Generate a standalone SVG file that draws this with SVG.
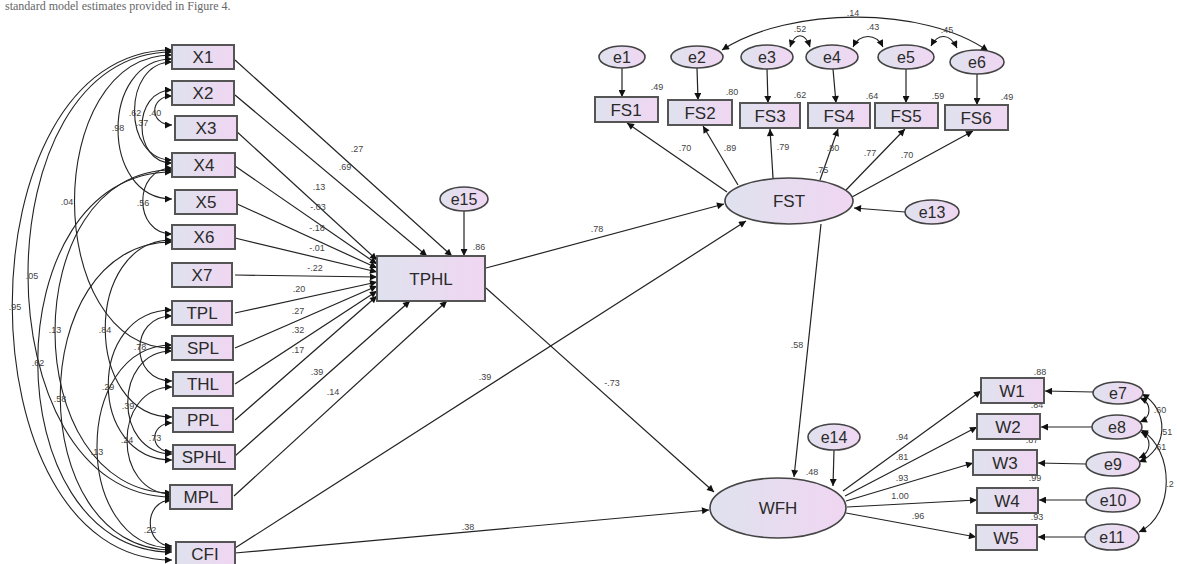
<svg xmlns="http://www.w3.org/2000/svg" width="1177" height="564" viewBox="0 0 1177 564">
<defs>
<linearGradient id="g" x1="0" y1="0" x2="1" y2="0">
<stop offset="0" stop-color="#dfe2ee"/>
<stop offset="1" stop-color="#f0d6f2"/>
</linearGradient>
<marker id="ah" viewBox="0 0 10 10" refX="10" refY="5" markerWidth="9" markerHeight="7" markerUnits="userSpaceOnUse" orient="auto-start-reverse">
<path d="M0,0 L10,5 L0,10 z" fill="#111"/>
</marker>
<style>
.bx{fill:url(#g);stroke:#555;stroke-width:2}
.el{fill:url(#g);stroke:#444;stroke-width:1.6}
.t{font-family:"Liberation Sans",Arial,sans-serif;font-size:17px;fill:#2a2a2a;text-anchor:middle}
.te{font-family:"Liberation Sans",Arial,sans-serif;font-size:16px;fill:#2a2a2a;text-anchor:middle}
.l{font-family:"Liberation Sans",Arial,sans-serif;font-size:9px;fill:#444;text-anchor:middle}
.c{fill:none;stroke:#222;stroke-width:1.2}
.a{fill:none;stroke:#222;stroke-width:1.2;marker-end:url(#ah)}
.d{fill:none;stroke:#222;stroke-width:1.1;marker-start:url(#ah);marker-end:url(#ah)}
</style>
</defs>
<rect width="1177" height="564" fill="#fff"/>
<text x="5" y="10" font-family="Liberation Serif,serif" font-size="12" fill="#666">standard model estimates provided in Figure 4.</text>

<g id="connectors">
<!-- left covariances -->
<path class="d" d="M172,50 C-41,50 -41,560 172,560"/>
<path class="d" d="M172,52 C-20,52 -20,497 172,497"/>
<path class="d" d="M172,55 C42,55 42,348 172,348"/>
<path class="d" d="M172,59 C100,59 100,199 172,199"/>
<path class="d" d="M172,62 C122,62 122,160 172,160"/>
<path class="d" d="M172,96 C149,96 149,125 172,125"/>
<path class="d" d="M172,90 C132,90 132,163 172,163"/>
<path class="d" d="M172,168 C133,168 133,234 172,234"/>
<path class="d" d="M172,170 C16,170 16,493 172,493"/>
<path class="d" d="M172,172 C-7,172 -7,552 172,552"/>
<path class="d" d="M172,240 C83,240 83,417 172,417"/>
<path class="d" d="M172,242 C23,242 23,550 172,550"/>
<path class="d" d="M172,316 C129,316 129,381 172,381"/>
<path class="d" d="M172,310 C87,310 87,460 172,460"/>
<path class="d" d="M172,351 C113,351 113,454 172,454"/>
<path class="d" d="M172,387 C112,387 112,494 172,494"/>
<path class="d" d="M172,345 C72,345 72,548 172,548"/>
<path class="d" d="M172,423 C149,423 149,452 172,452"/>
<path class="d" d="M172,500 C143,500 143,546 172,546"/>

<!-- to TPHL -->
<line class="a" x1="235" y1="60" x2="452" y2="256"/>
<line class="a" x1="235" y1="95" x2="427" y2="256"/>
<line class="a" x1="235" y1="130" x2="377" y2="260"/>
<line class="a" x1="235" y1="166" x2="377" y2="264"/>
<line class="a" x1="235" y1="203" x2="377" y2="268"/>
<line class="a" x1="235" y1="238" x2="377" y2="272"/>
<line class="a" x1="235" y1="275" x2="377" y2="277"/>
<line class="a" x1="235" y1="313" x2="377" y2="282"/>
<line class="a" x1="235" y1="348" x2="377" y2="286"/>
<line class="a" x1="235" y1="384" x2="377" y2="291"/>
<line class="a" x1="235" y1="420" x2="377" y2="296"/>
<line class="a" x1="235" y1="456" x2="410" y2="301"/>
<line class="a" x1="234" y1="496" x2="447" y2="301"/>
<line class="a" x1="464" y1="211" x2="464" y2="256"/>

<!-- structural -->
<line class="a" x1="486" y1="268" x2="724" y2="204"/>
<line class="a" x1="235" y1="548" x2="746" y2="221"/>
<line class="a" x1="486" y1="288" x2="714" y2="492"/>
<line class="a" x1="235" y1="553" x2="709" y2="510"/>
<line class="a" x1="821" y1="224" x2="794" y2="477"/>
<line class="a" x1="834" y1="450" x2="833" y2="486"/>
<line class="a" x1="905" y1="212" x2="854" y2="208"/>

<!-- FST to FS -->
<line class="a" x1="727" y1="192" x2="627" y2="123"/>
<line class="a" x1="738" y1="185" x2="703" y2="126"/>
<line class="a" x1="773" y1="178" x2="770" y2="129"/>
<line class="a" x1="820" y1="180" x2="838" y2="129"/>
<line class="a" x1="846" y1="190" x2="905" y2="129"/>
<line class="a" x1="852" y1="197" x2="973" y2="131"/>
<line class="a" x1="622" y1="68" x2="622" y2="97"/>
<line class="a" x1="697" y1="68" x2="698" y2="100"/>
<line class="a" x1="767" y1="69" x2="768" y2="103"/>
<line class="a" x1="833" y1="69" x2="836" y2="103"/>
<line class="a" x1="906" y1="69" x2="906" y2="103"/>
<line class="a" x1="977" y1="74" x2="977" y2="105"/>

<!-- top covariances -->
<path class="d" d="M722,50 C790,6 925,6 988,51"/>
<path class="d" d="M790,47 C795,32 805,32 810,47"/>
<path class="d" d="M853,47 C860,33 876,33 883,47"/>
<path class="d" d="M931,46 C938,33 950,33 957,48"/>

<!-- WFH to W -->
<line class="a" x1="843" y1="491" x2="981" y2="391"/>
<line class="a" x1="845" y1="496" x2="977" y2="427"/>
<line class="a" x1="846" y1="501" x2="973" y2="463"/>
<line class="a" x1="847" y1="507" x2="977" y2="500"/>
<line class="a" x1="846" y1="513" x2="976" y2="537"/>
<line class="a" x1="1093" y1="392" x2="1045" y2="391"/>
<line class="a" x1="1092" y1="427" x2="1041" y2="427"/>
<line class="a" x1="1086" y1="464" x2="1038" y2="463"/>
<line class="a" x1="1086" y1="500" x2="1039" y2="500"/>
<line class="a" x1="1085" y1="537" x2="1038" y2="537"/>

<!-- right covariances -->
<path class="d" d="M1140,398 C1152,403 1152,417 1140,422"/>
<path class="d" d="M1142,394 C1170,410 1168,450 1139,462"/>
<path class="d" d="M1141,432 C1152,438 1152,452 1139,458"/>
<path class="d" d="M1141,430 C1175,450 1175,515 1139,532"/>
</g>

<g id="labels">
<text class="l" x="357" y="152">.27</text>
<text class="l" x="345" y="170">.69</text>
<text class="l" x="319" y="190">.13</text>
<text class="l" x="318" y="210">-.03</text>
<text class="l" x="317" y="231">-.18</text>
<text class="l" x="317" y="251">-.01</text>
<text class="l" x="315" y="271">-.22</text>
<text class="l" x="299" y="292">.20</text>
<text class="l" x="298" y="314">.27</text>
<text class="l" x="298" y="333">.32</text>
<text class="l" x="298" y="353">.17</text>
<text class="l" x="317" y="375">.39</text>
<text class="l" x="333" y="395">.14</text>
<text class="l" x="479" y="250">.86</text>
<text class="l" x="597" y="232">.78</text>
<text class="l" x="485" y="380">.39</text>
<text class="l" x="612" y="386">-.73</text>
<text class="l" x="468" y="530">.38</text>
<text class="l" x="797" y="348">.58</text>
<text class="l" x="812" y="475">.48</text>
<text class="l" x="822" y="173">.75</text>
<text class="l" x="685" y="151">.70</text>
<text class="l" x="730" y="151">.89</text>
<text class="l" x="783" y="150">.79</text>
<text class="l" x="833" y="151">.80</text>
<text class="l" x="870" y="156">.77</text>
<text class="l" x="907" y="158">.70</text>
<text class="l" x="657" y="90">.49</text>
<text class="l" x="732" y="95">.80</text>
<text class="l" x="800" y="98">.62</text>
<text class="l" x="872" y="99">.64</text>
<text class="l" x="938" y="99">.59</text>
<text class="l" x="1007" y="100">.49</text>
<text class="l" x="853" y="16">.14</text>
<text class="l" x="800" y="32">.52</text>
<text class="l" x="873" y="30">.43</text>
<text class="l" x="947" y="33">.45</text>
<text class="l" x="902" y="440">.94</text>
<text class="l" x="902" y="460">.81</text>
<text class="l" x="902" y="481">.93</text>
<text class="l" x="900" y="499">1.00</text>
<text class="l" x="918" y="519">.96</text>
<text class="l" x="1040" y="375">.88</text>
<text class="l" x="1037" y="408">.84</text>
<text class="l" x="1032" y="443">.87</text>
<text class="l" x="1035" y="481">.99</text>
<text class="l" x="1037" y="520">.93</text>
<text class="l" x="1160" y="413">.60</text>
<text class="l" x="1166" y="435">.51</text>
<text class="l" x="1160" y="450">.61</text>
<text class="l" x="1170" y="487">.2</text>
<text class="l" x="15" y="310">.95</text>
<text class="l" x="32" y="279">.05</text>
<text class="l" x="67" y="205">.04</text>
<text class="l" x="118" y="131">.98</text>
<text class="l" x="135" y="116">.62</text>
<text class="l" x="155" y="116">.40</text>
<text class="l" x="142" y="126">.37</text>
<text class="l" x="143" y="206">.56</text>
<text class="l" x="55" y="333">.13</text>
<text class="l" x="38" y="366">.62</text>
<text class="l" x="105" y="333">.84</text>
<text class="l" x="60" y="402">.58</text>
<text class="l" x="140" y="350">.78</text>
<text class="l" x="108" y="390">.29</text>
<text class="l" x="128" y="409">.39</text>
<text class="l" x="127" y="443">.24</text>
<text class="l" x="97" y="455">.13</text>
<text class="l" x="155" y="441">.73</text>
<text class="l" x="150" y="533">.22</text>
</g>

<g id="X1"><rect class="bx" x="172" y="45" width="62" height="24"/><text class="t" x="203" y="63">X1</text></g>
<g id="X2"><rect class="bx" x="172" y="81" width="62" height="24"/><text class="t" x="203" y="99">X2</text></g>
<g id="X3"><rect class="bx" x="175" y="116" width="62" height="24"/><text class="t" x="206" y="134">X3</text></g>
<g id="X4"><rect class="bx" x="172" y="153" width="63" height="24"/><text class="t" x="204" y="171">X4</text></g>
<g id="X5"><rect class="bx" x="175" y="190" width="62" height="24"/><text class="t" x="206" y="208">X5</text></g>
<g id="X6"><rect class="bx" x="172" y="225" width="63" height="24"/><text class="t" x="204" y="243">X6</text></g>
<g id="X7"><rect class="bx" x="172" y="263" width="60" height="24"/><text class="t" x="202" y="281">X7</text></g>
<g id="TPL"><rect class="bx" x="172" y="301" width="60" height="24"/><text class="t" x="202" y="319">TPL</text></g>
<g id="SPL"><rect class="bx" x="172" y="336" width="61" height="24"/><text class="t" x="203" y="354">SPL</text></g>
<g id="THL"><rect class="bx" x="173" y="372" width="60" height="24"/><text class="t" x="203" y="390">THL</text></g>
<g id="PPL"><rect class="bx" x="173" y="408" width="60" height="24"/><text class="t" x="203" y="426">PPL</text></g>
<g id="SPHL"><rect class="bx" x="173" y="445" width="62" height="24"/><text class="t" x="204" y="463">SPHL</text></g>
<g id="MPL"><rect class="bx" x="170" y="485" width="62" height="24"/><text class="t" x="201" y="503">MPL</text></g>
<g id="CFI"><rect class="bx" x="176" y="542" width="59" height="24"/><text class="t" x="205" y="560">CFI</text></g>

<g id="TPHL"><rect class="bx" x="377" y="256" width="108" height="45"/><text class="t" x="431" y="285" font-size="18">TPHL</text></g>
<g id="e15"><ellipse class="el" cx="464" cy="199" rx="24" ry="12"/><text class="te" x="464" y="205">e15</text></g>

<g id="FST"><ellipse class="el" cx="789" cy="201" rx="64" ry="23"/><text class="t" x="789" y="207">FST</text></g>
<g id="e13"><ellipse class="el" cx="932" cy="212" rx="27" ry="12"/><text class="te" x="932" y="218">e13</text></g>
<g id="WFH"><ellipse class="el" cx="778" cy="508" rx="68" ry="30"/><text class="t" x="778" y="514">WFH</text></g>
<g id="e14"><ellipse class="el" cx="834" cy="437" rx="26" ry="13"/><text class="te" x="834" y="443">e14</text></g>

<g id="e1"><ellipse class="el" cx="622" cy="57" rx="23" ry="11"/><text class="te" x="622" y="63">e1</text></g>
<g id="e2"><ellipse class="el" cx="697" cy="57" rx="26" ry="11"/><text class="te" x="697" y="63">e2</text></g>
<g id="e3"><ellipse class="el" cx="767" cy="57" rx="26" ry="12"/><text class="te" x="767" y="63">e3</text></g>
<g id="e4"><ellipse class="el" cx="832" cy="57" rx="26" ry="12"/><text class="te" x="832" y="63">e4</text></g>
<g id="e5"><ellipse class="el" cx="906" cy="57" rx="28" ry="12"/><text class="te" x="906" y="63">e5</text></g>
<g id="e6"><ellipse class="el" cx="977" cy="62" rx="27" ry="12"/><text class="te" x="977" y="68">e6</text></g>

<g id="FS1"><rect class="bx" x="595" y="97" width="63" height="25"/><text class="t" x="626" y="116">FS1</text></g>
<g id="FS2"><rect class="bx" x="668" y="100" width="64" height="25"/><text class="t" x="700" y="119">FS2</text></g>
<g id="FS3"><rect class="bx" x="740" y="103" width="60" height="25"/><text class="t" x="770" y="122">FS3</text></g>
<g id="FS4"><rect class="bx" x="808" y="103" width="62" height="25"/><text class="t" x="839" y="122">FS4</text></g>
<g id="FS5"><rect class="bx" x="875" y="103" width="63" height="25"/><text class="t" x="906" y="122">FS5</text></g>
<g id="FS6"><rect class="bx" x="945" y="105" width="63" height="25"/><text class="t" x="976" y="124">FS6</text></g>

<g id="W1"><rect class="bx" x="981" y="378" width="63" height="25"/><text class="t" x="1012" y="397">W1</text></g>
<g id="W2"><rect class="bx" x="977" y="414" width="63" height="25"/><text class="t" x="1008" y="433">W2</text></g>
<g id="W3"><rect class="bx" x="973" y="450" width="64" height="25"/><text class="t" x="1005" y="469">W3</text></g>
<g id="W4"><rect class="bx" x="977" y="488" width="61" height="25"/><text class="t" x="1007" y="507">W4</text></g>
<g id="W5"><rect class="bx" x="976" y="525" width="61" height="25"/><text class="t" x="1006" y="544">W5</text></g>

<g id="e7"><ellipse class="el" cx="1118" cy="393" rx="25" ry="11"/><text class="te" x="1118" y="399">e7</text></g>
<g id="e8"><ellipse class="el" cx="1117" cy="427" rx="25" ry="12"/><text class="te" x="1117" y="433">e8</text></g>
<g id="e9"><ellipse class="el" cx="1113" cy="464" rx="27" ry="12"/><text class="te" x="1113" y="470">e9</text></g>
<g id="e10"><ellipse class="el" cx="1113" cy="500" rx="27" ry="12"/><text class="te" x="1113" y="506">e10</text></g>
<g id="e11"><ellipse class="el" cx="1112" cy="537" rx="27" ry="13"/><text class="te" x="1112" y="543">e11</text></g>
</svg>
